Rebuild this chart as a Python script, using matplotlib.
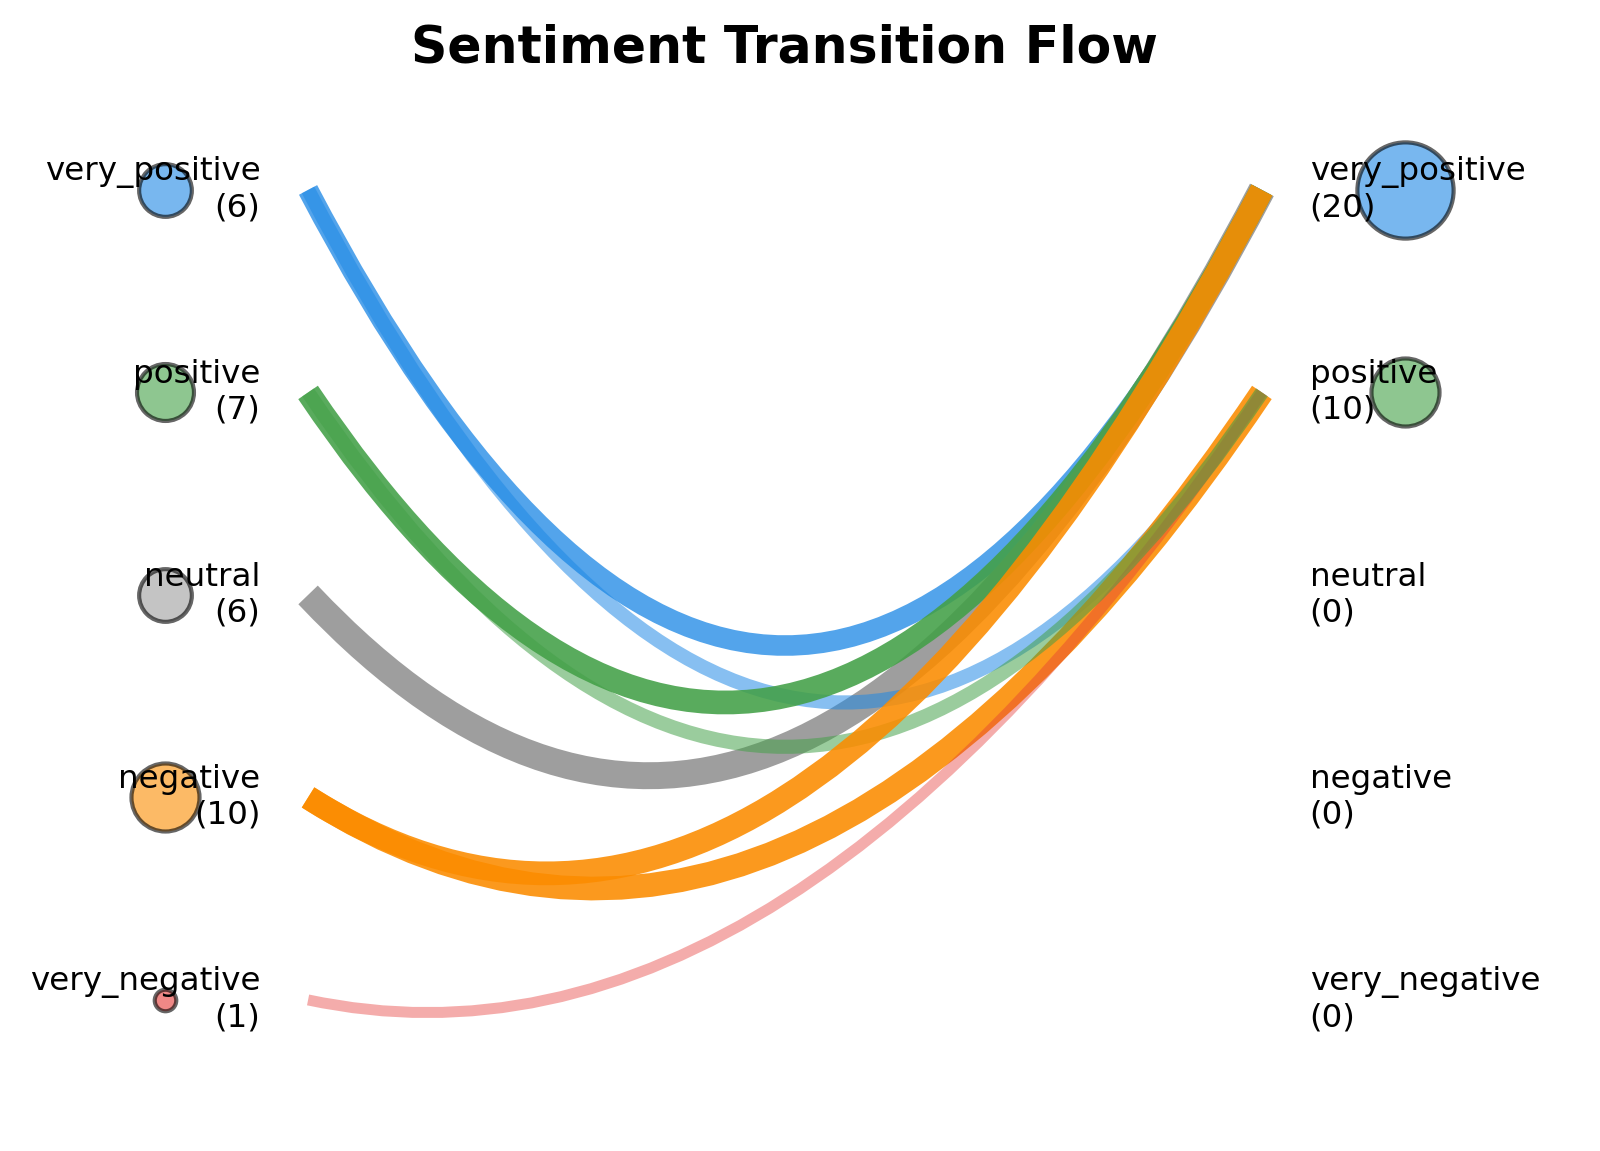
from matplotlib import pyplot as plt
from matplotlib.path import Path
from matplotlib.patches import PathPatch
import numpy as np

# sentiment levels, top to bottom
levels = ["very_positive", "positive", "neutral", "negative", "very_negative"]
colors = ["#1e88e5", "#43a047", "#9e9e9e", "#fb8c00", "#e53935"]

left_counts = [6, 7, 6, 10, 1]
right_counts = [20, 10, 0, 0, 0]

# transitions (source, target, count) in drawing order
flow_src = ["very_positive", "neutral", "very_positive", "positive",
            "negative", "very_negative", "positive", "negative"]
flow_dst = ["very_positive", "very_positive", "positive", "very_positive",
            "positive", "positive", "positive", "very_positive"]
flow_cnt = [4, 6, 2, 5, 5, 1, 2, 5]

ypos = {name: len(levels) - 1 - i for i, name in enumerate(levels)}
cmap = dict(zip(levels, colors))

fig = plt.figure(figsize=(8, 5.755), dpi=200)
ax = fig.add_axes([0, 0, 1, 1])
ax.set_xlim(-0.323, 1.3545)
ax.set_ylim(-0.746, 4.938)
ax.axis('off')

max_c = max(flow_cnt)
for s, d, c in zip(flow_src, flow_dst, flow_cnt):
    y0 = ypos[s]
    y1 = ypos[d]
    verts = [(0, y0), (0.5, -0.5), (1, y1)]
    path = Path(verts, [Path.MOVETO, Path.CURVE3, Path.CURVE3])
    patch = PathPatch(path, facecolor='none', edgecolor=cmap[s],
                      lw=2.8 + 1.15 * c, alpha=0.3 + 0.7 * c / max_c,
                      capstyle='butt')
    ax.add_patch(patch)

for i, name in enumerate(levels):
    y = ypos[name]
    if left_counts[i] > 0:
        ax.scatter(-0.15, y, s=left_counts[i] * 60, color=colors[i],
                   alpha=0.6, edgecolors='black', linewidths=1.5, zorder=3)
    if right_counts[i] > 0:
        ax.scatter(1.15, y, s=right_counts[i] * 60, color=colors[i],
                   alpha=0.6, edgecolors='black', linewidths=1.5, zorder=3)
    ax.text(-0.05, y, "%s\n(%d)" % (name, left_counts[i]), ha='right',
            va='center', fontsize=11.7, zorder=4)
    ax.text(1.05, y, "%s\n(%d)" % (name, right_counts[i]), ha='left',
            va='center', fontsize=11.7, zorder=4)

fig.text(0.49, 0.958, "Sentiment Transition Flow", ha='center', va='center',
         fontsize=18.2, fontweight='bold')

plt.savefig('out.png', dpi=200)
